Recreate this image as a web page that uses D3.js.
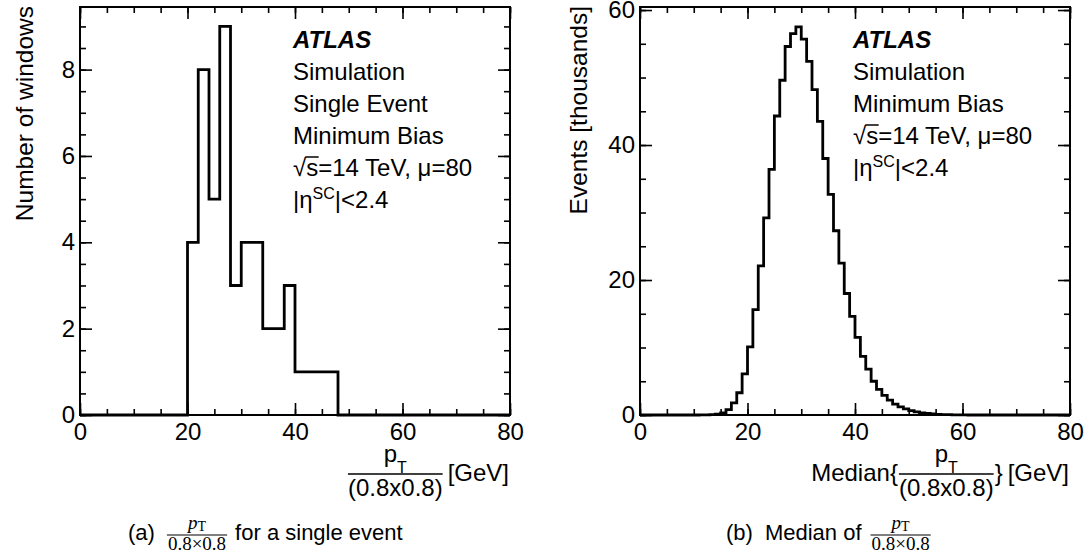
<!DOCTYPE html>
<html><head><meta charset="utf-8">
<script src="https://cdn.jsdelivr.net/npm/d3@7"></script>
<style>
body{margin:0;background:#fff}
svg{display:block}
text{font-family:"Liberation Sans",Arial,Helvetica,sans-serif;fill:#000}
.serif{font-family:"Liberation Serif","Times New Roman",serif}
</style></head><body>
<svg id="c" width="1086" height="554"></svg>
<script>
// ---------- data ----------
const xDomain = [0, 80];
const xMajorTicks = [0, 20, 40, 60, 80];
const xMinorTicks = [0,5,10,15,20,25,30,35,40,45,50,55,60,65,70,75,80];

// panel (a): number of windows per 2 GeV bin, 0..80
const countsA = [0,0,0,0,0,0,0,0,0,0, 4,8,5,9,3,4,4,2,2,3, 1,1,1,1,0,0,0,0,0,0, 0,0,0,0,0,0,0,0,0,0];
const yMajorTicksA = [0, 2, 4, 6, 8];
const yMinorTicksA = [0,0.5,1,1.5,2,2.5,3,3.5,4,4.5,5,5.5,6,6.5,7,7.5,8,8.5,9];
const yMaxA = 9.45;
const infoA = ["ATLAS", "Simulation", "Single Event", "Minimum Bias", "√s=14 TeV, μ=80", "|η^SC|<2.4"];
const yTitleA = "Number of windows";

// panel (b): events (thousands) per 1 GeV bin, 0..80
const countsB = [0,0,0,0,0,0,0,0,0,0,0,
  0.01,0.02,0.05,0.12,0.3,0.8,1.8,3.3,6.1,
  10.1,15.6,22.1,29.2,36.4,44.3,49.6,54.6,56.5,57.5,
  55.7,52.4,48.2,43.5,38.0,32.7,27.3,22.5,18.0,14.6,
  11.5,8.7,6.8,5.0,3.8,2.9,2.2,1.6,1.2,0.9,
  0.65,0.45,0.32,0.22,0.15,0.1,0.07,0.05,0.03,0.02,0.01,
  0,0,0,0,0,0,0,0,0,0,0,0,0,0,0,0,0,0,0];
const yMajorTicksB = [0, 20, 40, 60];
const yMinorTicksB = [0,5,10,15,20,25,30,35,40,45,50,55,60];
const yMaxB = 60.45;
const infoB = ["ATLAS", "Simulation", "Minimum Bias", "√s=14 TeV, μ=80", "|η^SC|<2.4"];
const yTitleB = "Events [thousands]";

const captionA = {label: "(a)", after: "for a single event", before: ""};
const captionB = {label: "(b)", before: "Median of", after: ""};

// ---------- drawing ----------
const svg = d3.select("#c");

function drawPanel(o) {
  const g = svg.append("g");
  const x = d3.scaleLinear().domain(xDomain).range([o.x0, o.x1]);
  const y = d3.scaleLinear().domain([0, o.yMax]).range([o.y1, o.y0]);

  // histogram outline
  const n = o.counts.length;
  const bw = (xDomain[1] - xDomain[0]) / n;
  const pts = o.counts.map((v, i) => ({e: xDomain[0] + i * bw, v}));
  pts.push({e: xDomain[1], v: o.counts[n - 1]});
  const line = d3.line().x(d => x(d.e)).y(d => y(d.v)).curve(d3.curveStepAfter);
  g.append("path").datum(pts).attr("d", line)
    .attr("fill", "none").attr("stroke", "#000").attr("stroke-width", 2.8)
    .attr("stroke-linejoin", "miter");

  const style = sel => {
    sel.select(".domain").remove();
    sel.selectAll(".tick line").attr("stroke", "#000").attr("stroke-width", 1.6);
    sel.selectAll(".tick text").style("font-size", "24px").attr("fill", "#000");
  };
  // bottom axis
  g.append("g").attr("transform", `translate(0,${o.y1})`)
    .call(d3.axisBottom(x).tickValues(xMinorTicks).tickSize(-6).tickFormat("")).call(style);
  g.append("g").attr("transform", `translate(0,${o.y1})`)
    .call(d3.axisBottom(x).tickValues(xMajorTicks).tickSize(-12).tickPadding(8).tickFormat(d3.format("d"))).call(style);
  // top axis
  g.append("g").attr("transform", `translate(0,${o.y0})`)
    .call(d3.axisTop(x).tickValues(xMinorTicks).tickSize(-6).tickFormat("")).call(style);
  g.append("g").attr("transform", `translate(0,${o.y0})`)
    .call(d3.axisTop(x).tickValues(xMajorTicks).tickSize(-12).tickFormat("")).call(style);
  // left axis
  g.append("g").attr("transform", `translate(${o.x0},0)`)
    .call(d3.axisLeft(y).tickValues(o.yMinor).tickSize(-6).tickFormat("")).call(style);
  g.append("g").attr("transform", `translate(${o.x0},0)`)
    .call(d3.axisLeft(y).tickValues(o.yMajor).tickSize(-12).tickPadding(5).tickFormat(d3.format("d"))).call(style);
  // right axis
  g.append("g").attr("transform", `translate(${o.x1},0)`)
    .call(d3.axisRight(y).tickValues(o.yMinor).tickSize(-6).tickFormat("")).call(style);
  g.append("g").attr("transform", `translate(${o.x1},0)`)
    .call(d3.axisRight(y).tickValues(o.yMajor).tickSize(-12).tickFormat("")).call(style);

  // frame
  g.append("rect").attr("x", o.x0).attr("y", o.y0)
    .attr("width", o.x1 - o.x0).attr("height", o.y1 - o.y0)
    .attr("fill", "none").attr("stroke", "#000").attr("stroke-width", 2);

  // y title
  g.append("text").attr("transform", `translate(${o.yTitleX},${o.y0 - 1}) rotate(-90)`)
    .attr("text-anchor", "end").style("font-size", "24.5px").text(o.yTitle);

  // info text
  const tx = o.x0 + 213;
  o.info.forEach((s, i) => {
    const by = i === 0 ? 48 : 80 + (i - 1) * 32;
    if (i === 0) {
      g.append("text").attr("x", tx).attr("y", by).style("font-size", "24px")
        .style("font-weight", "bold").style("font-style", "italic").text(s);
    } else if (s.includes("√")) {
      const k = s.indexOf("√");
      const t = g.append("text").attr("x", tx).attr("y", by).style("font-size", "24px");
      t.append("tspan").text(s.slice(0, k + 1));
      t.append("tspan").text(s.slice(k + 1, k + 2));
      t.append("tspan").text(s.slice(k + 2));
      const node = t.node();
      const e0 = node.getExtentOfChar(k), e1 = node.getExtentOfChar(k + 1);
      g.append("line").attr("x1", e0.x + e0.width - 1).attr("x2", e1.x + e1.width + 0.5)
        .attr("y1", by - 19).attr("y2", by - 19).attr("stroke", "#000").attr("stroke-width", 1.5);
    } else if (s.includes("^")) {
      const parts = s.split("^");
      const sup = parts[1].match(/^[A-Za-z]+/)[0];
      const rest = parts[1].slice(sup.length);
      const t = g.append("text").attr("x", tx).attr("y", by).style("font-size", "24px");
      t.append("tspan").text(parts[0]);
      t.append("tspan").attr("dy", -9).style("font-size", "16px").text(sup);
      t.append("tspan").attr("dy", 9).text(rest);
    } else {
      g.append("text").attr("x", tx).attr("y", by).style("font-size", "24px").text(s);
    }
  });

  // x title:  [prefix]{ frac } [GeV]
  const R = o.x1 - 1, base = 481;
  const gev = g.append("text").attr("x", R).attr("y", base).attr("text-anchor", "end")
    .style("font-size", "24px").text("[GeV]");
  let right = R - gev.node().getComputedTextLength() - 5;
  if (o.xPrefix) {
    const cb = g.append("text").attr("x", right).attr("y", base).attr("text-anchor", "end")
      .style("font-size", "24px").text("}");
    right -= cb.node().getComputedTextLength() + 1;
  }
  const den = g.append("text").attr("x", right).attr("y", 496).attr("text-anchor", "end")
    .style("font-size", "24px").text("(0.8x0.8)");
  const dw = den.node().getComputedTextLength();
  const left = right - dw;
  g.append("line").attr("x1", left).attr("x2", right).attr("y1", 474).attr("y2", 474)
    .attr("stroke", "#000").attr("stroke-width", 1.5);
  const num = g.append("text").attr("x", (left + right) / 2).attr("y", 462)
    .attr("text-anchor", "middle").style("font-size", "24px");
  num.append("tspan").text("p");
  num.append("tspan").attr("dy", 11).style("font-size", "16px").text("T");
  if (o.xPrefix) {
    g.append("text").attr("x", left - 1).attr("y", base).attr("text-anchor", "end")
      .style("font-size", "24px").text(o.xPrefix);
  }

  // caption
  const cap = o.caption;
  let cx = o.capX;
  const cb = 540;
  const t1 = g.append("text").attr("x", cx).attr("y", cb).style("font-size", "22px").text(cap.label);
  cx += t1.node().getComputedTextLength() + 12;
  if (cap.before) {
    const tb = g.append("text").attr("x", cx).attr("y", cb).style("font-size", "22px").text(cap.before);
    cx += tb.node().getComputedTextLength() + 9;
  }
  const fd = g.append("text").attr("class", "serif").attr("x", cx + 1).attr("y", 550)
    .style("font-size", "19px").text("0.8×0.8");
  const fw = fd.node().getComputedTextLength();
  g.append("line").attr("x1", cx).attr("x2", cx + fw + 2).attr("y1", 535).attr("y2", 535)
    .attr("stroke", "#000").attr("stroke-width", 1);
  const fn = g.append("text").attr("class", "serif").attr("x", cx + 1 + fw / 2).attr("y", 529)
    .attr("text-anchor", "middle").style("font-size", "19px");
  fn.append("tspan").style("font-style", "italic").text("p");
  fn.append("tspan").attr("dy", 2).style("font-size", "14px").text("T");
  cx += fw + 2 + 8;
  if (cap.after) {
    g.append("text").attr("x", cx).attr("y", cb).style("font-size", "22px").text(cap.after);
  }
}

drawPanel({x0: 80, x1: 510, y0: 7, y1: 415, counts: countsA, yMax: yMaxA,
  yMajor: yMajorTicksA, yMinor: yMinorTicksA, yTitle: yTitleA, yTitleX: 33,
  info: infoA, xPrefix: null, caption: captionA, capX: 128});
drawPanel({x0: 640, x1: 1070, y0: 7, y1: 415, counts: countsB, yMax: yMaxB,
  yMajor: yMajorTicksB, yMinor: yMinorTicksB, yTitle: yTitleB, yTitleX: 587,
  info: infoB, xPrefix: "Median{", caption: captionB, capX: 726});
</script>
</body></html>
